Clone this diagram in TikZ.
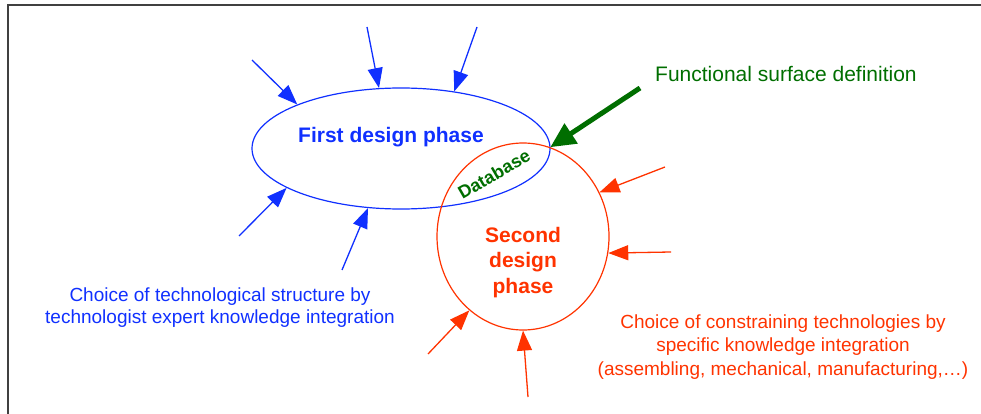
\documentclass[tikz,border=0pt]{standalone}
\usepackage{fontspec}
\setmainfont{Liberation Sans}
\usetikzlibrary{shapes.geometric,arrows.meta}
\definecolor{myblue}{RGB}{16,48,255}
\definecolor{myred}{RGB}{255,51,0}
\definecolor{mygreen}{RGB}{0,110,0}
\tikzset{
  bluearr/.style={draw=myblue, line width=1.3pt, -{Triangle[length=20pt,width=15pt]}},
  redarr/.style={draw=myred, line width=1.3pt, -{Triangle[length=20pt,width=15pt]}},
  greenarr/.style={draw=mygreen, line width=5pt, -{Triangle[length=25pt,width=23pt]}},
  phase/.style={ellipse, inner sep=0pt, line width=1.2pt},
  txt/.style={inner sep=0pt, align=center}
}
\begin{document}
\begin{tikzpicture}[x=1pt,y=-1pt]
\useasboundingbox (0,0) rectangle (981,414);
% frame
\draw[line width=1.3pt, black!75] (8,420) -- (8,5) -- (990,5);
% phases
\node[phase, draw=myblue, minimum width=298pt, minimum height=121pt] (fdp) at (401,148.5) {};
\node[phase, draw=myred, minimum width=172pt, minimum height=187pt] (sdp) at (523,236.5) {};
\node[txt, anchor=base, text=myblue, font=\fontsize{21}{25}\selectfont\bfseries] (fdpt) at (391,143) {First design phase};
\node[txt, anchor=base, text=myred, font=\fontsize{21}{25.5}\selectfont\bfseries] (sdpt) at (523,293) {Second\\design\\phase};
\node[txt, rotate=30, text=mygreen, font=\fontsize{18}{20}\selectfont\bfseries] (db) at (494,174) {Database};
% texts
\node[txt, anchor=base west, text=mygreen, font=\fontsize{21}{25}\selectfont] (fsd) at (655,82) {Functional surface definition};
\node[txt, anchor=base, text=myblue, font=\fontsize{19}{21.5}\selectfont] (bcap) at (220,323) {Choice of technological structure by\\technologist expert knowledge integration};
\node[txt, anchor=base, text=myred, font=\fontsize{19}{23.5}\selectfont] (rcap) at (783,375) {Choice of constraining technologies by\\specific knowledge integration\\(assembling, mechanical, manufacturing,…)};
% arrow start points
\coordinate (b1) at (252,60);
\coordinate (b2) at (367,27);
\coordinate (b3) at (477,27);
\coordinate (b4) at (239,236);
\coordinate (b5) at (342,270);
\coordinate (r1) at (665,167);
\coordinate (r2) at (671,252);
\coordinate (r3) at (428,354);
\coordinate (r4) at (528,397);
\coordinate (g1) at (640,88);
% arrows
\draw[bluearr] (b1) -- (fdp.157.6);
\draw[bluearr] (b2) -- (fdp.110.5);
\draw[bluearr] (b3) -- (fdp.47.8);
\draw[bluearr] (b4) -- (fdp.199.1);
\draw[bluearr] (b5) -- (fdp.241.5);
\draw[redarr] (r1) -- (sdp.30.6);
\draw[redarr] (r2) -- (sdp.349.5);
\draw[redarr] (r3) -- (sdp.234.8);
\draw[redarr] (r4) -- (sdp.270);
\draw[greenarr] (g1) -- (sdp.73.2);
\end{tikzpicture}
\end{document}
